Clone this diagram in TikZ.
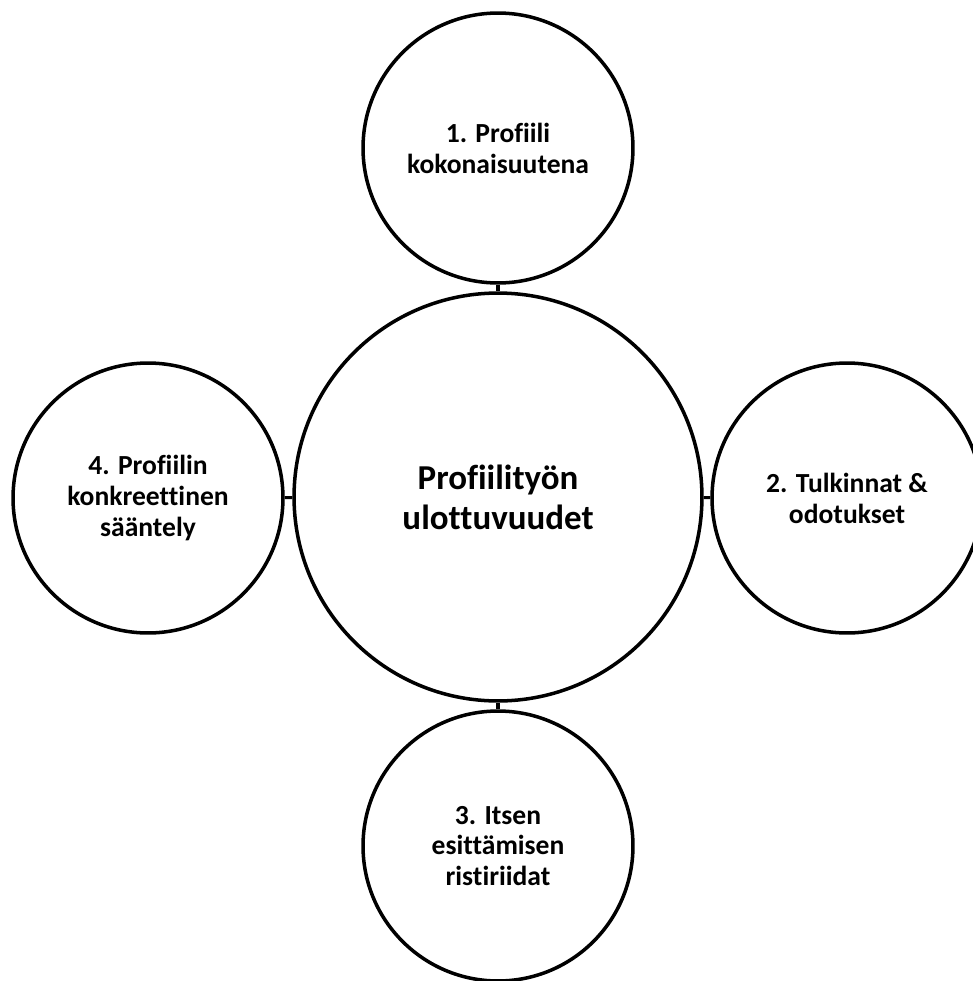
\documentclass[tikz,border=0pt]{standalone}
\usepackage{fontspec}
\setmainfont[Ligatures=NoCommon]{Carlito}
\usepackage{tikz}
\tikzstyle{dimension}=[circle, draw, line width=2pt, fill=white,
                       inner sep=0pt, minimum size=5.4cm, align=center,
                       font=\fontsize{15.7}{17.6}\selectfont\bfseries]
\tikzstyle{hub}=[dimension, minimum size=8.16cm,
                 font=\fontsize{19.9}{22.7}\selectfont\bfseries]
\tikzstyle{link}=[line width=1.8pt]

\begin{document}
\begin{tikzpicture}[x=0.02cm,y=-0.02cm]
  \useasboundingbox (0,0) rectangle (973,981);
  \node[hub] (dims) at (498,497) {Profiilityön\\ulottuvuudet};
  \node[dimension] (whole) at (498,148) {1. Profiili\\kokonaisuutena};
  \node[dimension] (interp) at (847,498) {2. Tulkinnat \&\\odotukset};
  \node[dimension] (conflict) at (498,846) {3. Itsen\\esittämisen\\ristiriidat};
  \node[dimension] (rules) at (148,498) {4. Profiilin\\konkreettinen\\sääntely};
  \draw[link] (whole)--(dims);
  \draw[link] (interp)--(dims);
  \draw[link] (conflict)--(dims);
  \draw[link] (rules)--(dims);
\end{tikzpicture}
\end{document}
